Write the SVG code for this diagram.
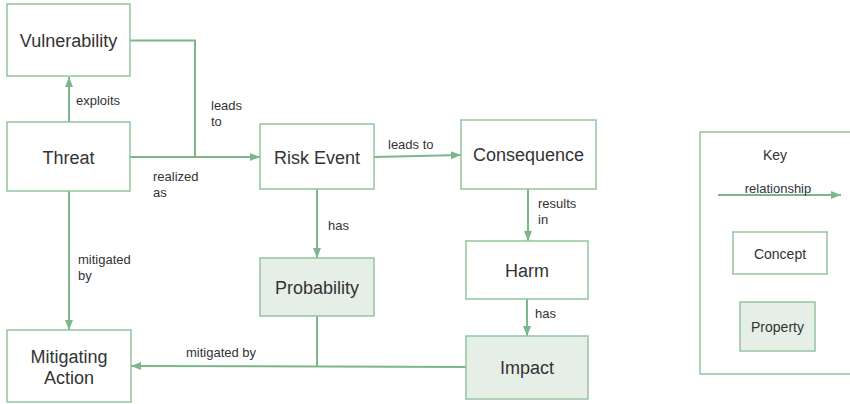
<svg xmlns="http://www.w3.org/2000/svg" width="850" height="404" viewBox="0 0 850 404">
<style>
.node rect{fill:#fff;stroke:#93c5a0;stroke-width:1.5}
.node.prop rect{fill:#e5efe7}
.nt{font-family:"Liberation Sans",Arial,sans-serif;font-size:18px;fill:#333;text-anchor:middle}
.lt{font-family:"Liberation Sans",Arial,sans-serif;font-size:13px;fill:#333}
.kt{font-family:"Liberation Sans",Arial,sans-serif;font-size:14px;fill:#333;text-anchor:middle}
.edge{fill:none;stroke:#7db68b;stroke-width:2}
</style>
<defs>
<marker id="ah" markerUnits="userSpaceOnUse" markerWidth="10" markerHeight="10" viewBox="0 0 10 10" refX="10" refY="5" orient="auto">
<path d="M0,1 L10,5 L0,9 Z" fill="#7db68b"/>
</marker>
</defs>
<rect width="850" height="404" fill="#fff"/>
<g id="connectors">
<path class="edge" d="M69,122 V77" marker-end="url(#ah)"/>
<path class="edge" d="M130,40.5 H195 V157"/>
<path class="edge" d="M130,157 H260" marker-end="url(#ah)"/>
<path class="edge" d="M374,157 L461,155" marker-end="url(#ah)"/>
<path class="edge" d="M528,189 V241" marker-end="url(#ah)"/>
<path class="edge" d="M317,189 V258" marker-end="url(#ah)"/>
<path class="edge" d="M527,299 V336" marker-end="url(#ah)"/>
<path class="edge" d="M69,191 V330" marker-end="url(#ah)"/>
<path class="edge" d="M466,367 L131,366" marker-end="url(#ah)"/>
<path class="edge" d="M317,316 V366.5"/>
<text class="lt" x="76" y="104.5">exploits</text>
<text class="lt" x="211" y="110">leads</text>
<text class="lt" x="211" y="126">to</text>
<text class="lt" x="153" y="181">realized</text>
<text class="lt" x="153" y="197">as</text>
<text class="lt" x="388" y="149">leads to</text>
<text class="lt" x="538" y="208">results</text>
<text class="lt" x="538" y="224">in</text>
<text class="lt" x="328" y="230">has</text>
<text class="lt" x="535" y="318">has</text>
<text class="lt" x="78" y="264">mitigated</text>
<text class="lt" x="78" y="280">by</text>
<text class="lt" x="186" y="357">mitigated by</text>
</g>
<g id="vulnerability" class="node"><rect x="7" y="4" width="123" height="72"/><text class="nt" x="68.5" y="47">Vulnerability</text></g>
<g id="threat" class="node"><rect x="7" y="122" width="123" height="69"/><text class="nt" x="68.5" y="164">Threat</text></g>
<g id="risk-event" class="node"><rect x="260" y="124" width="114" height="65"/><text class="nt" x="317" y="164">Risk Event</text></g>
<g id="consequence" class="node"><rect x="461" y="120" width="135" height="69"/><text class="nt" x="528.5" y="161">Consequence</text></g>
<g id="harm" class="node"><rect x="466" y="241" width="122" height="58"/><text class="nt" x="527" y="277">Harm</text></g>
<g id="probability" class="node prop"><rect x="260" y="258" width="114" height="58"/><text class="nt" x="317" y="294">Probability</text></g>
<g id="impact" class="node prop"><rect x="466" y="336" width="122" height="63"/><text class="nt" x="527" y="374">Impact</text></g>
<g id="mitigating-action" class="node"><rect x="7" y="330" width="124" height="72"/><text class="nt" x="69" y="363">Mitigating</text><text class="nt" x="69" y="384">Action</text></g>
<g id="key">
<rect x="700" y="132" width="170" height="242" fill="#fff" stroke="#93c5a0" stroke-width="1.5"/>
<text class="kt" x="775" y="160">Key</text>
<path class="edge" d="M718,195 H841" marker-end="url(#ah)"/>
<text class="lt" x="778" y="193" text-anchor="middle">relationship</text>
<g id="key-concept" class="node"><rect x="733" y="232" width="94" height="42"/><text class="kt" x="780" y="259">Concept</text></g>
<g id="key-property" class="node prop"><rect x="740" y="302" width="75" height="49"/><text class="kt" x="777.5" y="332">Property</text></g>
</g>
</svg>
